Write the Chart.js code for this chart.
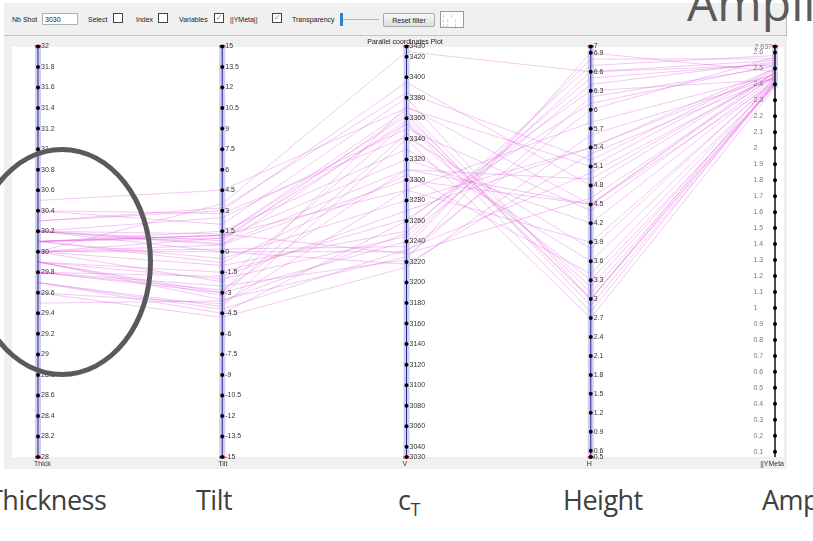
<!DOCTYPE html>
<html>
<head>
<meta charset="utf-8">
<script src="https://cdn.jsdelivr.net/npm/chart.js@4.4.1/dist/chart.umd.min.js"></script>
<style>
  body { margin: 0; width: 813px; height: 541px; overflow: hidden; background: #fff; position: relative;
         font-family: "Liberation Sans", Arial, sans-serif; }
  .a { position: absolute; }
  #panel { left: 4px; top: 3px; width: 782px; height: 466px; background: #f0f0f0; border-right: 1px solid #b8b8b8; }
  #bar { left: 4px; top: 35px; width: 782px; height: 1px; background: #c4c4c4; }
  .t { position: absolute; font-size: 7px; color: #222; top: 16px; white-space: nowrap; }
  .cb { position: absolute; top: 13px; width: 8px; height: 8px; border: 1px solid #444; background: #fff;
        font-size: 8px; line-height: 8px; text-align: center; color: #888; font-family: "DejaVu Sans"; }
  #nb { left: 42px; top: 13px; height: 12px; background: #fff; border: 1px solid #b0b0b0;
        font-size: 7px; line-height: 12px; padding-left: 2px; box-sizing: border-box; width: 36px; color: #222; }
  #thumb { left: 340px; top: 13px; width: 3px; height: 13px; background: #2f7fd8; }
  #track { left: 343px; top: 19px; width: 36px; height: 1px; background: #b8b8b8; }
  #reset { left: 383px; top: 13px; width: 52px; height: 14px; border: 1px solid #a8a8a8; border-radius: 2px;
           background: linear-gradient(#f8f8f8, #dedede); font-size: 7px; line-height: 14px; text-align: center;
           box-sizing: border-box; color: #222; }
  #icon { left: 440px; top: 11px; width: 24px; height: 17px; border: 1px solid #9a9a9a; background: #fff;
          box-sizing: border-box; font-size: 5px; line-height: 5px; color: #555; padding: 1px; letter-spacing: 1px;
          font-family: "DejaVu Sans Mono"; overflow: hidden; }
  #wrap { left: 4px; top: 36px; width: 783px; height: 433px; }
  #ring { left: -29px; top: 147px; width: 182px; height: 230px; border: 5px solid #5a5a5a; border-radius: 50%;
          box-sizing: border-box; }
  .big { position: absolute; font-family: "Open Sans", sans-serif; font-size: 27px; line-height: 27px;
         letter-spacing: -0.5px; color: #404040; white-space: nowrap; top: 486px; }
  #ampTop { left: 687px; top: -21px; font-family: "Open Sans", sans-serif; font-size: 48px; line-height: 48px;
            color: #5a5a5a; white-space: nowrap; }
</style>
</head>
<body>
<div class="a" id="panel"></div>
<div class="a" id="bar"></div>
<div class="t" style="left:12px">Nb Shot</div>
<div class="a" id="nb">3030</div>
<div class="t" style="left:88px">Select</div>
<div class="cb" style="left:113px"></div>
<div class="t" style="left:136px">Index</div>
<div class="cb" style="left:158px"></div>
<div class="t" style="left:179px">Variables</div>
<div class="cb" style="left:214px">✓</div>
<div class="t" style="left:230px">||YMeta||</div>
<div class="cb" style="left:272px">✓</div>
<div class="t" style="left:292px">Transparency</div>
<div class="a" id="track"></div>
<div class="a" id="thumb"></div>
<div class="a" id="reset">Reset filter</div>
<div class="a" id="icon">: : :: : :: : : :: :</div>
<div class="a" id="wrap"><canvas id="pcp" width="783" height="433"></canvas></div>
<div class="a" id="ring"></div>
<div class="a" id="ampTop">Ampli</div>
<div class="big" style="left:-12px">Thickness</div>
<div class="big" style="left:196px">Tilt</div>
<div class="big" style="left:398px">c<sub style="font-size:18px;line-height:0">T</sub></div>
<div class="big" style="left:563px">Height</div>
<div class="big" style="left:762px">Amp</div>
<script>
// one entry per shot, read across the five axes
const axisNames = ['Thick', 'Tilt', 'V', 'H', '||YMeta'];

const thick = [30.1, 29.9, 30.2, 30.0, 29.8, 30.4, 30.1, 29.7, 30.0, 30.2,
               29.9, 30.3, 29.6, 30.1, 30.0, 29.8, 30.2, 30.5, 29.9, 30.1,
               29.7, 30.0, 30.2, 29.8, 30.1, 30.3, 29.9, 30.0, 29.6, 30.2,
               30.1, 29.8, 30.0, 30.4, 29.9, 30.1, 29.7, 30.2, 30.0, 29.5];
const tilt = [1.2, -3.0, 0.5, 3.5, -2.5, 2.0, -0.5, -4.5, 1.0, 0.0,
              -3.2, 3.0, -4.8, 1.5, -1.0, -2.8, 0.8, 4.5, -3.5, 1.2,
              -4.0, 0.2, 2.5, -1.8, 1.0, 3.2, -2.0, 0.5, -3.8, 1.3,
              -0.8, -3.0, 0.0, 2.8, -1.5, 1.2, -4.2, 0.6, -2.2, -3.6];
const ct = [3362, 3240, 3300, 3425, 3222, 3380, 3280, 3260, 3355, 3230,
            3345, 3395, 3215, 3330, 3250, 3310, 3365, 3370, 3225, 3290,
            3340, 3235, 3350, 3270, 3320, 3385, 3245, 3358, 3290, 3228,
            3305, 3372, 3218, 3342, 3262, 3368, 3232, 3310, 3355, 3248];
const height = [3.0, 6.6, 4.5, 6.6, 6.9, 3.0, 5.4, 6.3, 2.8, 6.0,
                3.3, 4.8, 5.6, 3.6, 6.5, 4.5, 2.9, 5.1, 6.2, 3.9,
                2.7, 6.8, 4.4, 5.4, 4.2, 5.2, 6.4, 3.0, 5.8, 4.6,
                3.4, 4.5, 5.3, 3.8, 6.1, 3.1, 5.0, 4.9, 3.2, 6.7];
const amp = [2.45, 2.52, 2.41, 2.55, 2.48, 2.40, 2.50, 2.43, 2.42, 2.57,
             2.39, 2.47, 2.44, 2.41, 2.53, 2.46, 2.40, 2.49, 2.51, 2.42,
             2.38, 2.56, 2.44, 2.47, 2.43, 2.50, 2.54, 2.41, 2.46, 2.45,
             2.42, 2.48, 2.44, 2.43, 2.52, 2.40, 2.45, 2.47, 2.41, 2.58];

// axis ranges and tick labels
const thickRange = [28, 32];
const tiltRange = [-15, 15];
const ctRange = [3030, 3430];
const heightRange = [0.5, 7];
const ampRange = [0.067, 2.637];

const thickTicks = [28, 28.2, 28.4, 28.6, 28.8, 29, 29.2, 29.4, 29.6, 29.8, 30,
                    30.2, 30.4, 30.6, 30.8, 31, 31.2, 31.4, 31.6, 31.8, 32];
const tiltTicks = [-15, -13.5, -12, -10.5, -9, -7.5, -6, -4.5, -3, -1.5, 0,
                   1.5, 3, 4.5, 6, 7.5, 9, 10.5, 12, 13.5, 15];
const ctTicks = [3030, 3040, 3060, 3080, 3100, 3120, 3140, 3160, 3180, 3200, 3220,
                 3240, 3260, 3280, 3300, 3320, 3340, 3360, 3380, 3400, 3420, 3430];
const heightTicks = [0.5, 0.6, 0.9, 1.2, 1.5, 1.8, 2.1, 2.4, 2.7, 3, 3.3, 3.6,
                     3.9, 4.2, 4.5, 4.8, 5.1, 5.4, 5.7, 6, 6.3, 6.6, 6.9, 7];
const ampTicks = [0.1, 0.2, 0.3, 0.4, 0.5, 0.6, 0.7, 0.8, 0.9, 1, 1.1, 1.2, 1.3,
                  1.4, 1.5, 1.6, 1.7, 1.8, 1.9, 2, 2.1, 2.2, 2.3, 2.4, 2.5, 2.6, 2.637];

const columns = [thick, tilt, ct, height, amp];
const ranges = [thickRange, tiltRange, ctRange, heightRange, ampRange];
const ticks = [thickTicks, tiltTicks, ctTicks, heightTicks, ampTicks];

const lines = thick.map((_, k) => ({
  data: columns.map((col, i) => ({ x: i, y: (col[k] - ranges[i][0]) / (ranges[i][1] - ranges[i][0]) })),
  yAxisID: 'yn',
  borderColor: 'rgba(225, 105, 225, 0.42)',
  borderWidth: 0.9,
  pointRadius: 0,
  tension: 0,
  fill: false
}));

const scales = {
  x: { type: 'linear', min: 0, max: 4, display: false },
  yn: { type: 'linear', min: 0, max: 1, display: false }
};
ranges.forEach((r, i) => {
  scales['y' + i] = { type: 'linear', min: r[0], max: r[1], display: false };
});

const axesPlugin = {
  id: 'pcpAxes',
  beforeDraw(chart) {
    const { ctx, chartArea: a } = chart;
    ctx.save();
    ctx.fillStyle = '#f0f0f0';
    ctx.fillRect(0, 0, chart.width, chart.height);
    ctx.fillStyle = '#ffffff';
    ctx.fillRect(8, 11, 772, a.bottom - 11);
    // light bands behind the axes
    axisNames.forEach((n, i) => {
      const x = chart.scales.x.getPixelForValue(i);
      const s = chart.scales['y' + i];
      ctx.fillStyle = 'rgba(160, 160, 225, 0.5)';
      if (i < 4) {
        ctx.fillRect(x - 3, a.top, 6, a.bottom - a.top);
      } else {
        const top = s.getPixelForValue(ranges[i][1]);
        const bot = s.getPixelForValue(Math.min(...amp));
        ctx.fillRect(x - 3, top, 6, bot - top);
      }
    });
    ctx.restore();
  },
  afterDatasetsDraw(chart) {
    const { ctx, chartArea: a } = chart;
    ctx.save();
    ctx.font = '7px "Liberation Sans", Arial, sans-serif';
    ctx.textBaseline = 'middle';
    axisNames.forEach((n, i) => {
      const x = chart.scales.x.getPixelForValue(i);
      const s = chart.scales['y' + i];
      const meta = i === 4;
      ctx.strokeStyle = meta ? '#111' : '#2a2a8a';
      ctx.lineWidth = meta ? 1.5 : 1;
      ctx.beginPath();
      ctx.moveTo(x, a.top);
      ctx.lineTo(x, a.bottom);
      ctx.stroke();
      // red end markers
      ctx.fillStyle = '#e23b3b';
      ctx.fillRect(x - 3, a.top - 1.5, 6, 2.5);
      if (!meta) ctx.fillRect(x - 3, a.bottom - 1, 6, 2.5);
      ticks[i].forEach((v, j) => {
        const y = s.getPixelForValue(v);
        ctx.fillStyle = '#000';
        ctx.beginPath();
        ctx.arc(x, y, 2, 0, Math.PI * 2);
        ctx.fill();
        if (meta) {
          ctx.fillStyle = '#7a7a7a';
          if (j === ticks[i].length - 1) {
            ctx.textAlign = 'right';
            ctx.fillText(String(v), x - 3, y + 1);
          } else {
            ctx.textAlign = 'left';
            ctx.fillText(String(v), x - 21.5, y);
          }
        } else {
          ctx.fillStyle = '#333';
          ctx.textAlign = 'left';
          ctx.fillText(String(v), x + 3, y);
        }
      });
      // axis name in the bottom strip
      ctx.fillStyle = '#333';
      if (meta) {
        ctx.textAlign = 'right';
        ctx.fillText(n, 780, a.bottom + 7);
      } else {
        ctx.textAlign = 'left';
        ctx.fillText(n, x - 4, a.bottom + 7);
      }
    });
    ctx.fillStyle = '#222';
    ctx.textAlign = 'center';
    ctx.fillText('Parallel coordinates Plot', 401, 6.5);
    ctx.restore();
  }
};

new Chart(document.getElementById('pcp'), {
  type: 'line',
  data: { datasets: lines },
  options: {
    responsive: false,
    devicePixelRatio: 1,
    animation: false,
    layout: { padding: { left: 34, right: 12, top: 10.5, bottom: 12 } },
    plugins: { legend: { display: false }, tooltip: { enabled: false } },
    scales: scales
  },
  plugins: [axesPlugin]
});
</script>
</body>
</html>
